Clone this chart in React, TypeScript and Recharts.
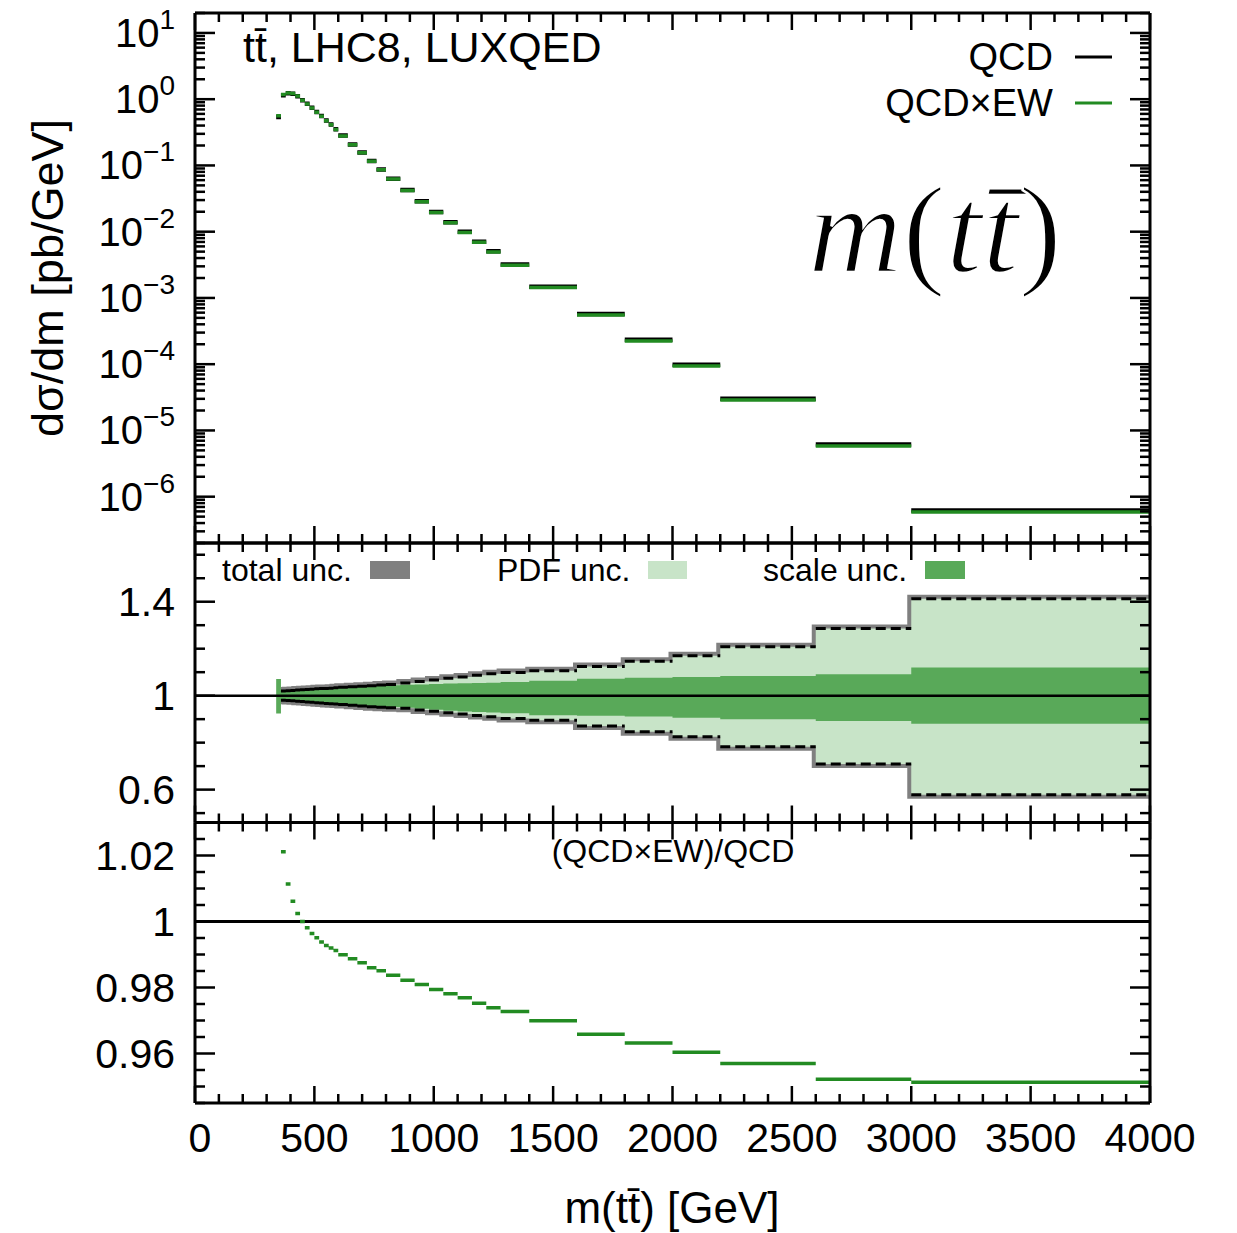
import React from "react";
import { ComposedChart, Line, Area, XAxis, YAxis, ReferenceLine } from "recharts";

const W = 1237;
const H = 1233;
const FONT = "'Liberation Sans', Arial, Helvetica, sans-serif";
const SERIF = "'Liberation Serif', 'DejaVu Serif', serif";

// bin edges of m(tt) in GeV
const binEdges = [340, 360, 380, 400, 420, 440, 460, 480, 500, 520, 540, 560, 580, 600,
  640, 680, 720, 760, 800, 860, 920, 980, 1040, 1100, 1160, 1220, 1280, 1400,
  1600, 1800, 2000, 2200, 2600, 3000, 4000];

// dsigma/dm [pb/GeV], pure QCD
const qcd = [0.54, 1.15, 1.23, 1.21, 1.11, 0.966, 0.851, 0.742, 0.64, 0.558, 0.475, 0.414, 0.352,
  0.282, 0.207, 0.157, 0.117, 0.0871, 0.0632, 0.0425, 0.0288, 0.0199, 0.0139, 0.00999,
  0.00708, 0.00505, 0.00319, 0.00148, 5.72e-4, 2.33e-4, 9.78e-5, 3.01e-5, 6.14e-6, 6.2e-7];

// (QCDxEW)/QCD
const ewRatio = [1.045, 1.0211, 1.0114, 1.0061, 1.0024, 1.0, 0.9981, 0.9964, 0.9951, 0.9938,
  0.9927, 0.992, 0.9912, 0.9899, 0.9887, 0.9875, 0.986, 0.9851, 0.9837, 0.9822, 0.9809,
  0.9794, 0.9781, 0.9769, 0.9752, 0.9739, 0.9727, 0.9699, 0.9658, 0.9632, 0.9604, 0.957,
  0.9522, 0.9513];

// relative uncertainty bands
const totalUp = [null, 1.02, 1.021, 1.022, 1.024, 1.025, 1.026, 1.027, 1.029, 1.03, 1.031, 1.032,
  1.034, 1.036, 1.038, 1.04, 1.042, 1.045, 1.048, 1.054, 1.06, 1.067, 1.074, 1.08, 1.087, 1.093,
  1.099, 1.106, 1.124, 1.147, 1.17, 1.208, 1.286, 1.413];
const totalDn = [null, 0.981, 0.979, 0.978, 0.976, 0.975, 0.973, 0.972, 0.97, 0.969, 0.967, 0.966,
  0.964, 0.962, 0.959, 0.956, 0.953, 0.951, 0.949, 0.946, 0.939, 0.934, 0.927, 0.922, 0.916,
  0.91, 0.903, 0.895, 0.871, 0.846, 0.825, 0.783, 0.709, 0.578];
const scaleUp = [1.071, 1.019, 1.02, 1.021, 1.023, 1.024, 1.025, 1.026, 1.028, 1.029, 1.03, 1.031,
  1.033, 1.034, 1.036, 1.038, 1.04, 1.042, 1.044, 1.046, 1.048, 1.05, 1.052, 1.053, 1.054, 1.055,
  1.058, 1.064, 1.072, 1.076, 1.08, 1.084, 1.091, 1.12];
const scaleDn = [0.924, 0.982, 0.98, 0.979, 0.977, 0.976, 0.974, 0.973, 0.971, 0.97, 0.968, 0.967,
  0.965, 0.963, 0.96, 0.958, 0.956, 0.954, 0.952, 0.949, 0.944, 0.94, 0.936, 0.933, 0.93, 0.928,
  0.925, 0.917, 0.914, 0.911, 0.906, 0.9, 0.892, 0.88];

const xMajor = [0, 500, 1000, 1500, 2000, 2500, 3000, 3500, 4000];
const logMajor = [1e-6, 1e-5, 1e-4, 1e-3, 1e-2, 1e-1, 1, 10];
const bandMajor = [0.6, 1, 1.4];
const ratioMajor = [0.96, 0.98, 1, 1.02];

const xTicks: number[] = [];
for (let v = 0; v <= 4000; v += 100) xTicks.push(v);
const logTicks: number[] = [];
for (let e = -7; e <= 1; e++) {
  for (let d = 1; d <= 9; d++) {
    const v = Number((d * Math.pow(10, e)).toPrecision(3));
    if (v >= 2e-7 && v <= 20) logTicks.push(v);
  }
}
const bandTicks: number[] = [];
for (let k = 5; k <= 16; k++) bandTicks.push(Number((k / 10).toFixed(1)));
const ratioTicks: number[] = [];
for (let k = 0; k <= 17; k++) ratioTicks.push(Number((0.945 + 0.005 * k).toFixed(3)));

// tables
const histRows: any[] = [];
const ratioRows: any[] = [];
const bandRows: any[] = [];
const dashRows: any[] = [];
qcd.forEach((v, i) => {
  const lo = binEdges[i];
  const hi = binEdges[i + 1];
  const ew = v * ewRatio[i];
  histRows.push({ m: lo, qcd: v, ew }, { m: hi, qcd: v, ew }, { m: hi, qcd: null, ew: null });
  ratioRows.push({ m: lo, r: ewRatio[i] }, { m: hi, r: ewRatio[i] }, { m: hi, r: null });
  const tot = totalUp[i] == null ? null : [totalDn[i], totalUp[i]];
  const sc = [scaleDn[i], scaleUp[i]];
  bandRows.push({ m: lo, tot, sc }, { m: hi, tot, sc });
  if (totalUp[i] != null) {
    dashRows.push({ m: lo, up: totalUp[i], dn: totalDn[i] }, { m: hi, up: totalUp[i], dn: totalDn[i] },
      { m: hi, up: null, dn: null });
  }
});

const near = (a: number, b: number) => Math.abs(a - b) <= 1e-6 * Math.max(Math.abs(a), Math.abs(b));

const sup = (v: number) => {
  const e = Math.round(Math.log10(v));
  return e < 0 ? "\u2212" + Math.abs(e) : String(e);
};

function yTick(side: "left" | "right", majors: number[], label?: (v: number, x: number, y: number) => React.ReactNode) {
  return (p: any) => {
    const v = Number(p.payload.value);
    const isMajor = majors.some((m) => near(m, v));
    const d = side === "left" ? 1 : -1;
    const len = isMajor ? 20 : 10;
    return (
      <g>
        <line x1={p.x} y1={p.y} x2={p.x + d * len} y2={p.y} stroke="#000" strokeWidth={2.5} />
        {side === "left" && isMajor && label ? label(v, p.x, p.y) : null}
      </g>
    );
  };
}

function xTick(side: "top" | "bottom", withLabel: boolean) {
  return (p: any) => {
    const v = Number(p.payload.value);
    const isMajor = xMajor.some((m) => near(m, v));
    const d = side === "bottom" ? -1 : 1;
    const len = isMajor ? 17 : 9;
    return (
      <g>
        <line x1={p.x} y1={p.y} x2={p.x} y2={p.y + d * len} stroke="#000" strokeWidth={2.5} />
        {withLabel && isMajor ? (
          <text x={p.x + (v === 0 ? 5 : 0)} y={p.y + 49} textAnchor="middle" fontSize={41} fontFamily={FONT} fill="#000">
            {v}
          </text>
        ) : null}
      </g>
    );
  };
}

const logLabel = (v: number, x: number, y: number) => (
  <text x={x - 20} y={y + 14} textAnchor="end" fontSize={40} fontFamily={FONT} fill="#000">
    10<tspan dy={-18} fontSize={28}>{sup(v)}</tspan>
  </text>
);
const numLabel = (v: number, x: number, y: number) => (
  <text x={x - 20} y={y + 14} textAnchor="end" fontSize={41} fontFamily={FONT} fill="#000">
    {String(v)}
  </text>
);

const frame = { stroke: "#000", strokeWidth: 3 };

const Panel = (p: {
  top: number;
  bottom: number;
  domain: [number, number];
  ticks: number[];
  majors: number[];
  log?: boolean;
  label: (v: number, x: number, y: number) => React.ReactNode;
  xLabels?: boolean;
  children: React.ReactNode;
}) => (
  <div style={{ position: "absolute", left: 0, top: 0 }}>
    {/* x axes are 1px tall: a zero-height axis is not drawn at all */}
    <ComposedChart width={W} height={H} margin={{ top: p.top - 1, bottom: H - p.bottom - 1, left: 0, right: 0 }}>
      {p.children}
      <XAxis xAxisId="b" dataKey="m" type="number" domain={[0, 4000]} allowDataOverflow ticks={xTicks}
        interval={0} height={1} tickSize={0} tickMargin={0} axisLine={frame} tickLine={false}
        tick={xTick("bottom", !!p.xLabels)} />
      <XAxis xAxisId="t" orientation="top" dataKey="m" type="number" domain={[0, 4000]} allowDataOverflow
        ticks={xTicks} interval={0} height={1} tickSize={0} tickMargin={0} axisLine={frame} tickLine={false}
        tick={xTick("top", false)} />
      <YAxis yAxisId="l" type="number" scale={p.log ? "log" : "linear"} domain={p.domain} allowDataOverflow
        ticks={p.ticks} interval={0} width={195} tickSize={0} tickMargin={0} axisLine={frame} tickLine={false}
        tick={yTick("left", p.majors, p.label)} />
      <YAxis yAxisId="r" orientation="right" type="number" scale={p.log ? "log" : "linear"} domain={p.domain}
        allowDataOverflow ticks={p.ticks} interval={0} width={87} tickSize={0} tickMargin={0} axisLine={frame}
        tickLine={false} tick={yTick("right", p.majors)} />
    </ComposedChart>
  </div>
);

export default function App() {
  return (
    <div style={{ position: "absolute", left: 0, top: 0, width: W, height: H, background: "#fff", fontFamily: FONT }}>
      <Panel top={13} bottom={543} domain={[2e-7, 20]} ticks={logTicks} majors={logMajor} log label={logLabel}>
        <Line xAxisId="b" yAxisId="l" data={histRows} dataKey="qcd" type="linear" stroke="#000" strokeWidth={4.5}
          dot={false} isAnimationActive={false} />
        <Line xAxisId="b" yAxisId="l" data={histRows} dataKey="ew" type="linear" stroke="#228b22" strokeWidth={3.5}
          dot={false} isAnimationActive={false} />
      </Panel>
      <Panel top={543} bottom={822.5} domain={[0.46, 1.65]} ticks={bandTicks} majors={bandMajor} label={numLabel}>
        <Area xAxisId="b" yAxisId="l" data={bandRows} dataKey="tot" type="linear" fill="#808080" fillOpacity={1}
          stroke="#808080" strokeWidth={8} isAnimationActive={false} />
        <Area xAxisId="b" yAxisId="l" data={bandRows} dataKey="tot" type="linear" fill="#c8e4c8" fillOpacity={1}
          stroke="none" isAnimationActive={false} />
        <Area xAxisId="b" yAxisId="l" data={bandRows} dataKey="sc" type="linear" fill="#59a959" fillOpacity={1}
          stroke="none" isAnimationActive={false} />
        <Line xAxisId="b" yAxisId="l" data={dashRows} dataKey="up" type="linear" stroke="#000" strokeWidth={3}
          strokeDasharray="10 5" dot={false} isAnimationActive={false} />
        <Line xAxisId="b" yAxisId="l" data={dashRows} dataKey="dn" type="linear" stroke="#000" strokeWidth={3}
          strokeDasharray="10 5" dot={false} isAnimationActive={false} />
        <ReferenceLine xAxisId="b" yAxisId="l" y={1} stroke="#000" strokeWidth={2.5} />
      </Panel>
      <Panel top={822.5} bottom={1103} domain={[0.945, 1.03]} ticks={ratioTicks} majors={ratioMajor} label={numLabel} xLabels>
        <ReferenceLine xAxisId="b" yAxisId="l" y={1} stroke="#000" strokeWidth={3} />
        <Line xAxisId="b" yAxisId="l" data={ratioRows} dataKey="r" type="linear" stroke="#228b22" strokeWidth={3.5}
          dot={false} isAnimationActive={false} />
      </Panel>
      <svg width={W} height={H} style={{ position: "absolute", left: 0, top: 0, pointerEvents: "none" }}>
        <g fontFamily={FONT} fill="#000">
          <text x={243} y={62} fontSize={43}>t{"t\u0304"}, LHC8, LUXQED</text>
          <text x={1053} y={70} fontSize={38} textAnchor="end">QCD</text>
          <line x1={1075} y1={57} x2={1112} y2={57} stroke="#000" strokeWidth={3} />
          <text x={1053} y={116} fontSize={38} textAnchor="end">QCD×EW</text>
          <line x1={1075} y1={103} x2={1112} y2={103} stroke="#228b22" strokeWidth={3} />
          <text x={222} y={581} fontSize={32}>total unc.</text>
          <rect x={370} y={561} width={40} height={18} fill="#808080" />
          <text x={497} y={581} fontSize={32}>PDF unc.</text>
          <rect x={648} y={561} width={39} height={18} fill="#c8e4c8" />
          <text x={763} y={581} fontSize={32}>scale unc.</text>
          <rect x={925} y={561} width={40} height={18} fill="#59a959" />
          <text x={673} y={862} fontSize={32} textAnchor="middle">(QCD×EW)/QCD</text>
          <text x={672} y={1223} fontSize={44} textAnchor="middle">m(t{"t\u0304"}) [GeV]</text>
          <text transform="translate(63,278) rotate(-90)" fontSize={45} textAnchor="middle">dσ/dm [pb/GeV]</text>
        </g>
        <text x={808} y={272} fontFamily={SERIF} fontSize={124} fill="#000" stroke="#fff" strokeWidth={2.5}
          textLength={254} lengthAdjust="spacingAndGlyphs">
          <tspan fontStyle="italic">m</tspan>
          <tspan>(</tspan>
          <tspan fontStyle="italic">t{"t\u0304"}</tspan>
          <tspan>)</tspan>
        </text>
      </svg>
    </div>
  );
}
